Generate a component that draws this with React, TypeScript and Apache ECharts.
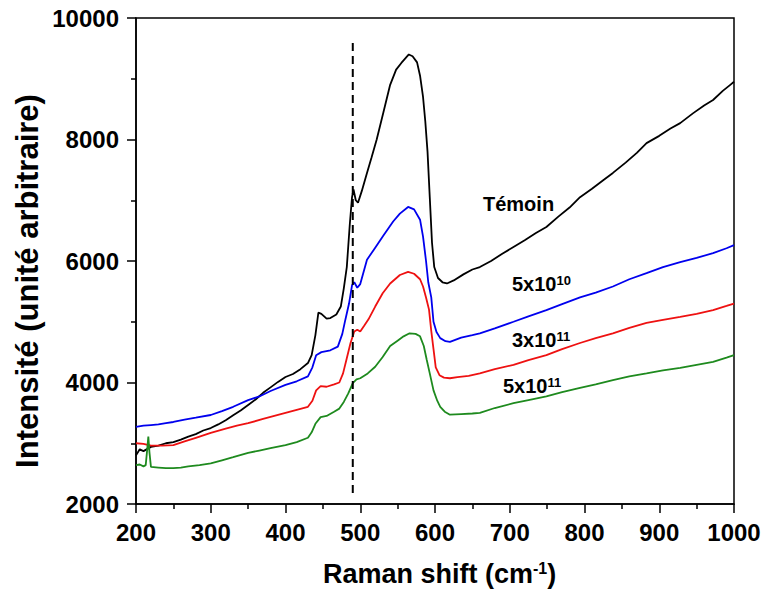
import React, { useEffect, useRef } from "react";
import * as echarts from "echarts";

const xTicks = [200, 300, 400, 500, 600, 700, 800, 900, 1000];
const yTicks = [2000, 4000, 6000, 8000, 10000];

const temoin: [number, number][] = [
  [200, 2800], [205, 2900], [210, 2870], [220, 2940], [230, 2960], [240, 3000], [250, 3020], [260, 3060],
  [270, 3110], [280, 3150], [290, 3210], [300, 3250], [310, 3310], [320, 3380], [330, 3460], [340, 3540],
  [350, 3630], [360, 3720], [370, 3830], [380, 3920], [390, 4010], [400, 4090], [410, 4140], [420, 4220],
  [430, 4320], [435, 4450], [440, 4780], [444, 5150], [448, 5130], [455, 5050], [460, 5060], [468, 5120],
  [474, 5250], [478, 5550], [482, 5900], [486, 6600], [489, 7050], [491, 7180], [494, 7000], [497, 6960],
  [502, 7150], [509, 7450], [515, 7700], [522, 8000], [531, 8450], [540, 8900], [548, 9150], [555, 9260],
  [560, 9330], [565, 9400], [570, 9370], [576, 9270], [580, 9050], [584, 8700], [587, 8300], [590, 7800],
  [593, 7050], [596, 6300], [599, 5900], [604, 5720], [610, 5650], [616, 5630], [625, 5680], [638, 5780],
  [650, 5860], [660, 5900], [675, 6000], [690, 6120], [705, 6230], [720, 6340], [735, 6460], [749, 6560],
  [765, 6730], [780, 6880], [794, 7050], [810, 7190], [825, 7330], [838, 7450], [855, 7620], [870, 7780],
  [883, 7940], [900, 8060], [915, 8180], [928, 8270], [945, 8430], [960, 8560], [972, 8650], [985, 8800],
  [995, 8900], [1000, 8950],
];

const dose5e10: [number, number][] = [
  [200, 3270], [210, 3290], [220, 3300], [230, 3310], [240, 3330], [250, 3350], [265, 3390], [280, 3420],
  [300, 3465], [315, 3530], [330, 3600], [350, 3710], [365, 3770], [380, 3860], [400, 3960], [415, 4020],
  [430, 4100], [436, 4250], [441, 4450], [448, 4500], [460, 4530], [470, 4590], [476, 4800], [480, 5030],
  [485, 5300], [489, 5600], [492, 5650], [496, 5560], [500, 5620], [509, 6020], [520, 6220], [531, 6420],
  [544, 6650], [553, 6780], [564, 6890], [572, 6850], [580, 6680], [584, 6400], [588, 6000], [591, 5650],
  [595, 5400], [598, 5000], [602, 4830], [607, 4730], [614, 4680], [620, 4670], [635, 4740], [650, 4780],
  [660, 4810], [680, 4890], [705, 5000], [725, 5090], [749, 5190], [770, 5290], [794, 5400], [815, 5480],
  [838, 5580], [860, 5700], [883, 5800], [905, 5900], [928, 5980], [950, 6050], [972, 6130], [990, 6210],
  [1000, 6260],
];

const dose3e11: [number, number][] = [
  [200, 3000], [210, 2990], [220, 2960], [235, 2960], [250, 2970], [265, 3030], [280, 3090], [300, 3170],
  [320, 3240], [335, 3290], [350, 3330], [370, 3400], [385, 3450], [400, 3500], [415, 3550], [430, 3600],
  [436, 3700], [441, 3870], [447, 3940], [455, 3930], [465, 3970], [472, 4000], [477, 4150], [482, 4400],
  [487, 4650], [492, 4840], [496, 4870], [500, 4840], [505, 4930], [511, 5040], [520, 5250], [530, 5470],
  [540, 5630], [553, 5770], [564, 5820], [572, 5790], [580, 5700], [584, 5580], [588, 5400], [592, 5200],
  [595, 4850], [598, 4550], [601, 4250], [606, 4120], [612, 4080], [620, 4070], [630, 4090], [645, 4110],
  [660, 4150], [680, 4220], [705, 4290], [725, 4370], [749, 4450], [770, 4550], [794, 4650], [815, 4730],
  [838, 4810], [860, 4900], [883, 4980], [905, 5030], [928, 5080], [950, 5130], [972, 5190], [990, 5260],
  [1000, 5300],
];

const dose5e11: [number, number][] = [
  [200, 2640], [205, 2650], [210, 2620], [213, 2640], [215, 2900], [216.5, 3110], [218, 2850], [220, 2610],
  [230, 2600], [240, 2590], [250, 2590], [260, 2600], [270, 2620], [285, 2640], [300, 2670], [315, 2720],
  [330, 2770], [350, 2840], [365, 2880], [380, 2920], [400, 2970], [415, 3020], [430, 3090], [435, 3180],
  [440, 3320], [447, 3430], [455, 3450], [465, 3520], [472, 3570], [478, 3680], [484, 3820], [490, 3990],
  [495, 4050], [500, 4070], [510, 4150], [520, 4260], [530, 4420], [540, 4600], [549, 4680], [558, 4760],
  [566, 4810], [574, 4800], [580, 4760], [585, 4600], [589, 4370], [593, 4150], [598, 3870], [603, 3700],
  [607, 3600], [613, 3520], [620, 3470], [635, 3480], [650, 3490], [660, 3500], [680, 3580], [705, 3660],
  [725, 3710], [749, 3770], [770, 3840], [794, 3910], [815, 3970], [838, 4040], [860, 4100], [883, 4150],
  [905, 4200], [928, 4240], [950, 4290], [972, 4340], [990, 4410], [1000, 4450],
];

const dashedLine: [number, number][] = [
  [490, 2180],
  [490, 9620],
];

const FONT = "'Liberation Sans', Arial, Helvetica, sans-serif";

export default function App() {
  const ref = useRef<HTMLDivElement>(null);

  useEffect(() => {
    document.body.style.margin = "0";
    if (!ref.current) return;
    const chart = echarts.init(ref.current, null, { renderer: "svg" });

    const lineSeries = (name: string, data: [number, number][], color: string) => ({
      name,
      type: "line",
      data,
      showSymbol: false,
      symbol: "none",
      lineStyle: { color, width: 1.8 },
      z: 3,
    });

    const labelStyle = (color: string) => ({
      rich: {
        m: { fontSize: 20, fontWeight: "bold", fontFamily: FONT, color },
        s: { fontSize: 13, fontWeight: "bold", fontFamily: FONT, color, verticalAlign: "top" },
      },
    });

    const tickLabel = {
      color: "#000",
      fontSize: 24,
      fontWeight: "bold",
      fontFamily: FONT,
      formatter: (v: number) => String(v),
    };

    chart.setOption({
      animation: false,
      backgroundColor: "#ffffff",
      grid: {
        left: 136,
        top: 18,
        right: 31,
        bottom: 88,
        show: true,
        borderColor: "#000",
        borderWidth: 1.5,
        backgroundColor: "transparent",
      },
      xAxis: {
        type: "value",
        min: xTicks[0],
        max: xTicks[xTicks.length - 1],
        interval: 100,
        axisLine: { show: true, onZero: false, lineStyle: { color: "#000", width: 1.5 } },
        axisTick: { show: true, inside: false, length: 9, lineStyle: { color: "#000", width: 1.5 } },
        minorTick: { show: true, splitNumber: 2, length: 5, lineStyle: { color: "#000", width: 1.5 } },
        splitLine: { show: false },
        axisLabel: { ...tickLabel, margin: 16 },
      },
      yAxis: {
        type: "value",
        min: yTicks[0],
        max: yTicks[yTicks.length - 1],
        interval: 2000,
        axisLine: { show: true, onZero: false, lineStyle: { color: "#000", width: 1.5 } },
        axisTick: { show: true, inside: false, length: 9, lineStyle: { color: "#000", width: 1.5 } },
        minorTick: { show: true, splitNumber: 2, length: 5, lineStyle: { color: "#000", width: 1.5 } },
        splitLine: { show: false },
        axisLabel: { ...tickLabel, margin: 17 },
      },
      series: [
        lineSeries("Témoin", temoin, "#000000"),
        lineSeries("5x10^10", dose5e10, "#0000ee"),
        lineSeries("3x10^11", dose3e11, "#ee1111"),
        lineSeries("5x10^11", dose5e11, "#1e8a1e"),
        {
          name: "ref",
          type: "line",
          data: dashedLine,
          showSymbol: false,
          symbol: "none",
          lineStyle: { color: "#000", width: 2, type: [8, 5] },
          z: 4,
        },
      ],
      graphic: [
        {
          type: "text",
          x: 27,
          y: 281,
          rotation: Math.PI / 2,
          style: {
            text: "Intensité (unité arbitraire)",
            fill: "#000",
            font: `bold 31px ${FONT}`,
            textAlign: "center",
            textVerticalAlign: "middle",
          },
        },
        {
          type: "text",
          left: 483,
          top: 194,
          style: { text: "Témoin", fill: "#000", font: `bold 20px ${FONT}` },
        },
        {
          type: "text",
          left: 512,
          top: 274,
          style: { text: "{m|5x10}{s|10}", ...labelStyle("#0000ee") },
        },
        {
          type: "text",
          left: 512,
          top: 330,
          style: { text: "{m|3x10}{s|11}", ...labelStyle("#ee1111") },
        },
        {
          type: "text",
          left: 503,
          top: 376,
          style: { text: "{m|5x10}{s|11}", ...labelStyle("#1e8a1e") },
        },
        {
          type: "text",
          left: 323,
          top: 560,
          style: {
            text: "{m|Raman shift (cm}{s|-1}{m|)}",
            rich: {
              m: { fontSize: 27, fontWeight: "bold", fontFamily: FONT, color: "#000" },
              s: { fontSize: 16, fontWeight: "bold", fontFamily: FONT, color: "#000", verticalAlign: "top" },
            },
          },
        },
      ],
    });

    return () => chart.dispose();
  }, []);

  return <div ref={ref} style={{ width: 765, height: 592 }} />;
}
